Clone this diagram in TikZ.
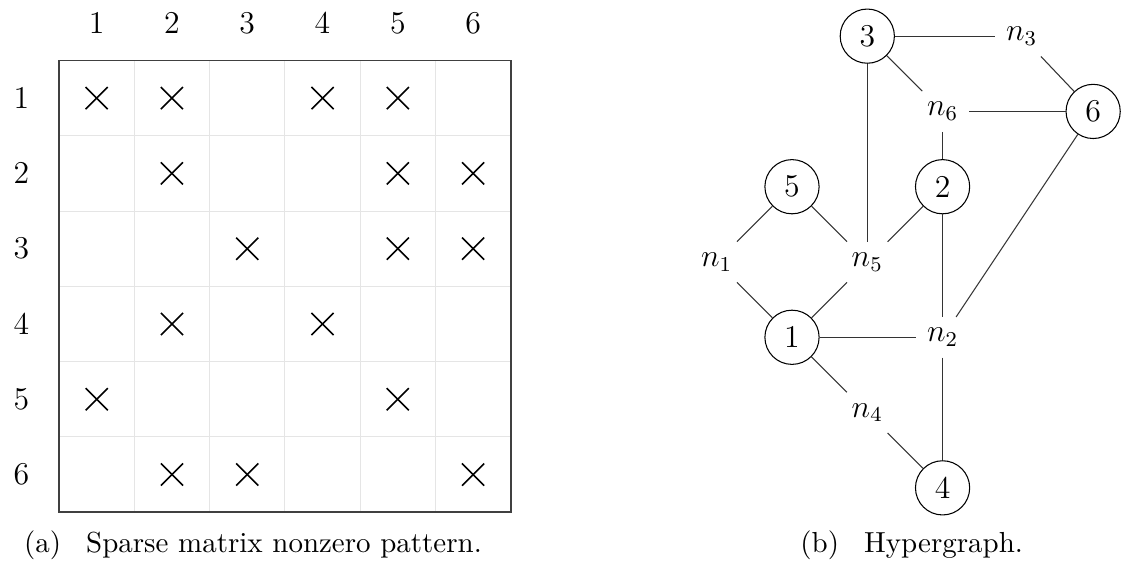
\documentclass[tikz,border=0pt]{standalone}
\usetikzlibrary{positioning,calc}
\usepackage{amssymb,amsmath}

\begin{document}
\begin{tikzpicture}[x=1cm, y=1cm, font=\large]

 \tikzset{
   cell/.style={draw=black!10, line width=0.4pt},
   frame/.style={draw=black!75, line width=0.6pt},
   nz/.style={line width=0.6pt},
   vert/.style={circle, draw=black, thin, minimum size=7.2mm, inner sep=0pt},
   net/.style={inner sep=4pt},
   edge/.style={draw=black!80, thin},
   caption/.style={font=\fontsize{10.95}{13.6}\selectfont}
 }

 % Picture frame
 \useasboundingbox (0,0) rectangle (14.89,7.52);

 % Matrix origin: cell (i,j) sits at (\xoff+j, \yoff-i)
 \def\xoff{0.284}
 \def\yoff{7.217}

 % Grid
 \foreach \k in {1,...,5} {
   \draw[cell] ($(\xoff+\k+0.5, \yoff-0.5)$) -- ($(\xoff+\k+0.5, \yoff-6.5)$);
   \draw[cell] ($(\xoff+0.5, \yoff-\k-0.5)$) -- ($(\xoff+6.5, \yoff-\k-0.5)$);
 }
 \draw[frame] (\xoff+0.5, \yoff-0.5) rectangle (\xoff+6.5, \yoff-6.5);

 % Row and column labels
 \foreach \k in {1,...,6} {
   \node (col\k) at (\xoff+\k, \yoff) {\k};
   \node (row\k) at (\xoff, \yoff-\k) {\k};
 }

 % Nonzeros
 \foreach \i/\j in {1/1, 1/2, 1/4, 1/5,
                    2/2, 2/5, 2/6,
                    3/3, 3/5, 3/6,
                    4/2, 4/4,
                    5/1, 5/5,
                    6/2, 6/3, 6/6} {
   \draw[nz] (\xoff+\j-0.147, \yoff-\i-0.147) -- (\xoff+\j+0.147, \yoff-\i+0.147);
   \draw[nz] (\xoff+\j-0.147, \yoff-\i+0.147) -- (\xoff+\j+0.147, \yoff-\i-0.147);
 }

 % Hypergraph origin
 \def\hx{9.52}
 \def\hy{1.04}

 % Vertices
 \node[vert] (v3) at (\hx+2, \hy+6) {3};
 \node[vert] (v6) at (\hx+5, \hy+5) {6};
 \node[vert] (v5) at (\hx+1, \hy+4) {5};
 \node[vert] (v2) at (\hx+3, \hy+4) {2};
 \node[vert] (v1) at (\hx+1, \hy+2) {1};
 \node[vert] (v4) at (\hx+3, \hy+0) {4};

 % Nets
 \node[net] (n3) at (\hx+4.05, \hy+6) {$n_3$};
 \node[net] (n6) at (\hx+3, \hy+5) {$n_6$};
 \node[net] (n1) at (\hx+0, \hy+3) {$n_1$};
 \node[net] (n5) at (\hx+2, \hy+3) {$n_5$};
 \node[net] (n2) at (\hx+3, \hy+2) {$n_2$};
 \node[net] (n4) at (\hx+2, \hy+1) {$n_4$};

 % Pins
 \draw[edge] (v3) -- (n3);
 \draw[edge] (n3) -- (v6);
 \draw[edge] (v3) -- (n6);
 \draw[edge] (n6) -- (v6);
 \draw[edge] (n6) -- (v2);
 \draw[edge] (v3) -- (n5);
 \draw[edge] (v5) -- (n1);
 \draw[edge] (v5) -- (n5);
 \draw[edge] (v2) -- (n5);
 \draw[edge] (v2) -- (n2);
 \draw[edge] (v6) -- (n2);
 \draw[edge] (n1) -- (v1);
 \draw[edge] (n5) -- (v1);
 \draw[edge] (v1) -- (n2);
 \draw[edge] (v1) -- (n4);
 \draw[edge] (n4) -- (v4);
 \draw[edge] (n2) -- (v4);

 % Captions
 \node[caption] (capa) at (3.36, 0.28) {(a)\hspace{9.5pt}Sparse matrix nonzero pattern.};
 \node[caption] (capb) at (12.11, 0.28) {(b)\hspace{9.5pt}Hypergraph.};

\end{tikzpicture}
\end{document}
